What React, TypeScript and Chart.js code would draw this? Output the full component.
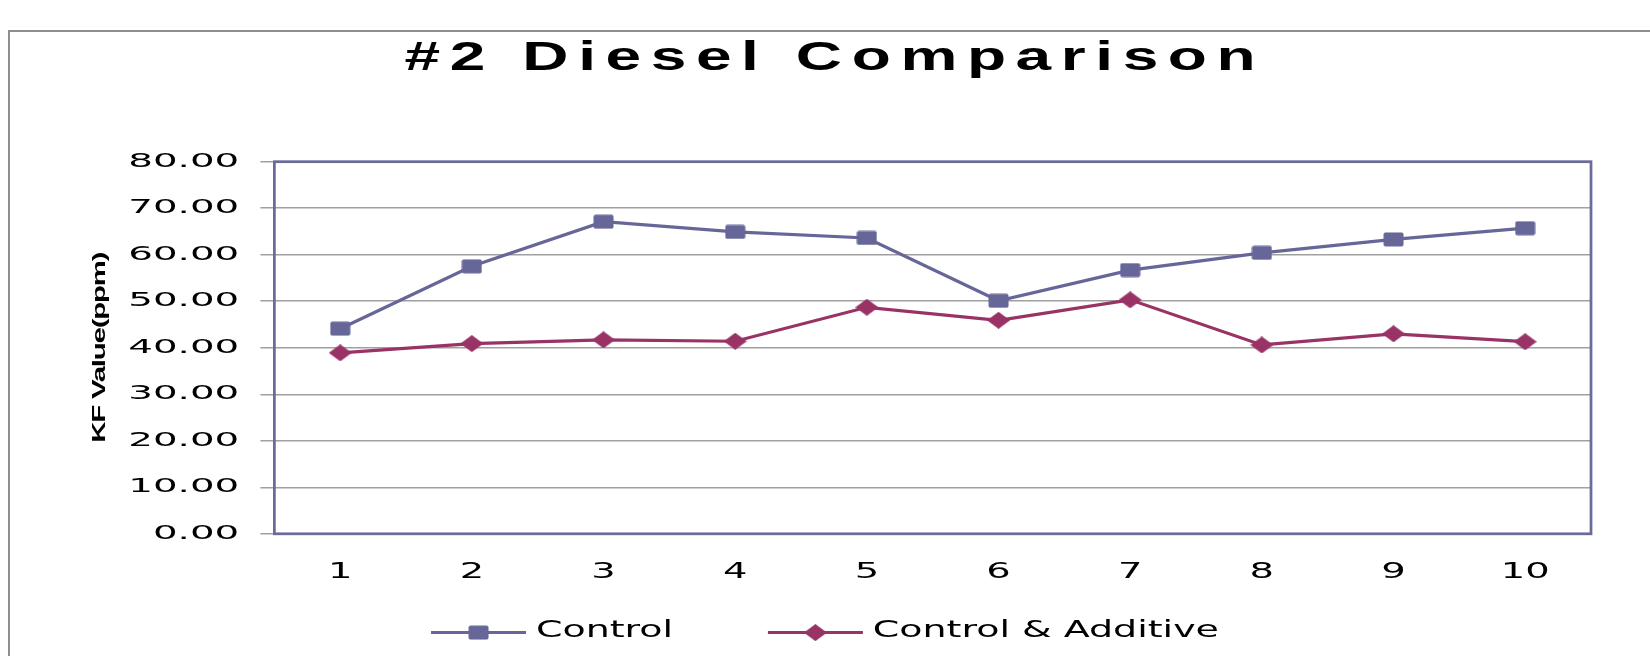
import { useEffect, useRef } from 'react';
import { Chart, registerables } from 'chart.js';

Chart.register(...registerables);

// ---- data ----
const categories = ['1', '2', '3', '4', '5', '6', '7', '8', '9', '10'];
const controlValues = [44.1, 57.5, 67.1, 64.9, 63.6, 50.1, 56.7, 60.4, 63.3, 65.7];
const additiveValues = [38.9, 40.9, 41.7, 41.4, 48.7, 45.9, 50.3, 40.6, 43.0, 41.3];
const seriesNames = ['Control', 'Control & Additive'];
const yMin = 0;
const yMax = 80;
const yStep = 10;
const chartTitle = '#2 Diesel Comparison';
const yAxisTitle = 'KF Value(ppm)';

// ---- style ----
const CONTROL_COLOR = '#666699';
const ADDITIVE_COLOR = '#993366';
const PLOT_BORDER = '#6b6b9b';
const GRID_COLOR = '#a0a0a0';

// horizontal stretch of text (the reference renders its text widened), keyed by font px size
const TEXT_STRETCH: Record<number, { sx: number; ls: number }> = {
  40: { sx: 1.6, ls: 6 }, // title
  20: { sx: 1.94, ls: 0 }, // y ticks
  21: { sx: 1.83, ls: 0 }, // x ticks
  19: { sx: 1.55, ls: -0.8 }, // y title
  23: { sx: 1.65, ls: 0 }, // legend
};

function patchContext(ctx: any) {
  if (ctx.__stretched) return;
  ctx.__stretched = true;
  const fill = ctx.fillText.bind(ctx);
  const measure = ctx.measureText.bind(ctx);
  const hasLS = 'letterSpacing' in ctx;
  const get = () => {
    const m = /(\d+(?:\.\d+)?)px/.exec(ctx.font);
    return m ? TEXT_STRETCH[Math.round(parseFloat(m[1]))] : undefined;
  };
  ctx.measureText = (text: string) => {
    const s = get();
    const m = measure(text);
    if (!s) return m;
    const extra = hasLS ? s.ls * String(text).length : 0;
    return {
      width: (m.width + extra) * s.sx,
      actualBoundingBoxAscent: m.actualBoundingBoxAscent,
      actualBoundingBoxDescent: m.actualBoundingBoxDescent,
      actualBoundingBoxLeft: m.actualBoundingBoxLeft * s.sx,
      actualBoundingBoxRight: m.actualBoundingBoxRight * s.sx,
      fontBoundingBoxAscent: m.fontBoundingBoxAscent,
      fontBoundingBoxDescent: m.fontBoundingBoxDescent,
    };
  };
  ctx.fillText = (text: string, x: number, y: number, maxWidth?: number) => {
    const s = get();
    if (!s) {
      if (maxWidth === undefined) fill(text, x, y);
      else fill(text, x, y, maxWidth);
      return;
    }
    ctx.save();
    ctx.translate(x, y);
    ctx.scale(s.sx, 1);
    if (hasLS) ctx.letterSpacing = s.ls + 'px';
    fill(text, 0, 0);
    ctx.restore();
  };
}

function makeSquare(color: string) {
  const c = document.createElement('canvas');
  c.width = 21;
  c.height = 15;
  const g = c.getContext('2d')!;
  g.fillStyle = color;
  g.beginPath();
  (g as any).roundRect ? (g as any).roundRect(0.5, 0.5, 20, 14, 2) : g.rect(0.5, 0.5, 20, 14);
  g.fill();
  return c;
}

function makeDiamond(color: string) {
  const c = document.createElement('canvas');
  c.width = 23;
  c.height = 17;
  const g = c.getContext('2d')!;
  g.fillStyle = color;
  g.beginPath();
  g.moveTo(11.5, 0);
  g.lineTo(23, 8.5);
  g.lineTo(11.5, 17);
  g.lineTo(0, 8.5);
  g.closePath();
  g.fill();
  return c;
}

const plotBorderPlugin = {
  id: 'plotBorder',
  beforeDatasetsDraw(chart: any) {
    const { ctx, chartArea } = chart;
    const { left, top, right, bottom } = chartArea;
    ctx.save();
    ctx.strokeStyle = PLOT_BORDER;
    ctx.lineWidth = 2.75;
    ctx.strokeRect(left, top, right - left, bottom - top);
    ctx.restore();
  },
};

const legendPlugin = {
  id: 'lineLegend',
  afterDraw(chart: any) {
    const { ctx, chartArea } = chart;
    ctx.save();
    ctx.font = '23px "DejaVu Sans"';
    const lineLen = 95;
    const gapText = 9.9;
    const gapItem = 94.8;
    const items = chart.data.datasets.map((ds: any) => ({ ds, w: ctx.measureText(ds.label).width }));
    let total = 0;
    items.forEach((it: any, i: number) => {
      total += lineLen + gapText + it.w + (i < items.length - 1 ? gapItem : 0);
    });
    let x = chart.width / 2 - total / 2;
    const textY = chartArea.bottom + 96.8;
    const lineY = chartArea.bottom + 98.8;
    for (const it of items) {
      ctx.strokeStyle = it.ds.borderColor;
      ctx.lineWidth = 3;
      ctx.beginPath();
      ctx.moveTo(x, lineY);
      ctx.lineTo(x + lineLen, lineY);
      ctx.stroke();
      const img = it.ds.pointStyle;
      ctx.drawImage(img, x + lineLen / 2 - img.width / 2, lineY - img.height / 2);
      ctx.fillStyle = '#000';
      ctx.textAlign = 'left';
      ctx.textBaseline = 'middle';
      ctx.fillText(it.ds.label, x + lineLen + gapText, textY);
      x += lineLen + gapText + it.w + gapItem;
    }
    ctx.restore();
  },
};

export default function App() {
  const ref = useRef<HTMLCanvasElement>(null);

  useEffect(() => {
    const canvas = ref.current;
    if (!canvas) return;
    const ctx = canvas.getContext('2d')!;
    patchContext(ctx);

    const chart = new Chart(ctx, {
      type: 'line',
      data: {
        labels: categories,
        datasets: [
          {
            label: seriesNames[0],
            data: controlValues,
            borderColor: CONTROL_COLOR,
            backgroundColor: CONTROL_COLOR,
            borderWidth: 3.2,
            pointStyle: makeSquare(CONTROL_COLOR) as any,
            pointRadius: 6,
            fill: false,
            tension: 0,
          },
          {
            label: seriesNames[1],
            data: additiveValues,
            borderColor: ADDITIVE_COLOR,
            backgroundColor: ADDITIVE_COLOR,
            borderWidth: 3.2,
            pointStyle: makeDiamond(ADDITIVE_COLOR) as any,
            pointRadius: 6,
            fill: false,
            tension: 0,
          },
        ],
      },
      options: {
        animation: false,
        responsive: false,
        devicePixelRatio: 1,
        layout: { padding: { left: 78.8, right: 59, top: 0, bottom: 44.8 } },
        plugins: {
          legend: { display: false },
          tooltip: { enabled: false },
          title: {
            display: true,
            text: chartTitle,
            color: '#000',
            font: { family: '"Liberation Sans"', size: 40, weight: 'bold' },
            padding: { top: 35.44, bottom: 78.26 },
          },
        },
        scales: {
          x: {
            type: 'category',
            offset: true,
            grid: { display: false, drawTicks: false },
            border: { display: false },
            ticks: {
              color: '#000',
              font: { family: '"DejaVu Sans"', size: 21 },
              padding: 26.1,
              maxRotation: 0,
              autoSkip: false,
            },
          },
          y: {
            min: yMin,
            max: yMax,
            ticks: {
              stepSize: yStep,
              color: '#000',
              font: { family: '"DejaVu Sans"', size: 20 },
              padding: 21.1,
              callback: (v: any) => Number(v).toFixed(2),
            },
            grid: { color: GRID_COLOR, lineWidth: 1.5, tickLength: 14, drawTicks: true },
            border: { display: false },
            title: {
              display: true,
              text: yAxisTitle,
              color: '#000',
              font: { family: '"Liberation Sans"', size: 19, weight: 'bold' },
              padding: { top: 9.15, bottom: -3.65 },
            },
          },
        },
      },
      plugins: [plotBorderPlugin, legendPlugin],
    } as any);

    return () => chart.destroy();
  }, []);

  return (
    <div
      style={{
        position: 'fixed',
        left: 0,
        top: 0,
        width: 1650,
        height: 656,
        background: '#fff',
        overflow: 'hidden',
      }}
    >
      <div
        style={{
          position: 'absolute',
          left: 8,
          top: 30,
          width: 1700,
          height: 700,
          borderLeft: '2px solid #8e8e8e',
          borderTop: '2px solid #8e8e8e',
        }}
      />
      <canvas
        ref={ref}
        width={1650}
        height={656}
        style={{ position: 'absolute', left: 0, top: 0, width: 1650, height: 656 }}
      />
    </div>
  );
}
